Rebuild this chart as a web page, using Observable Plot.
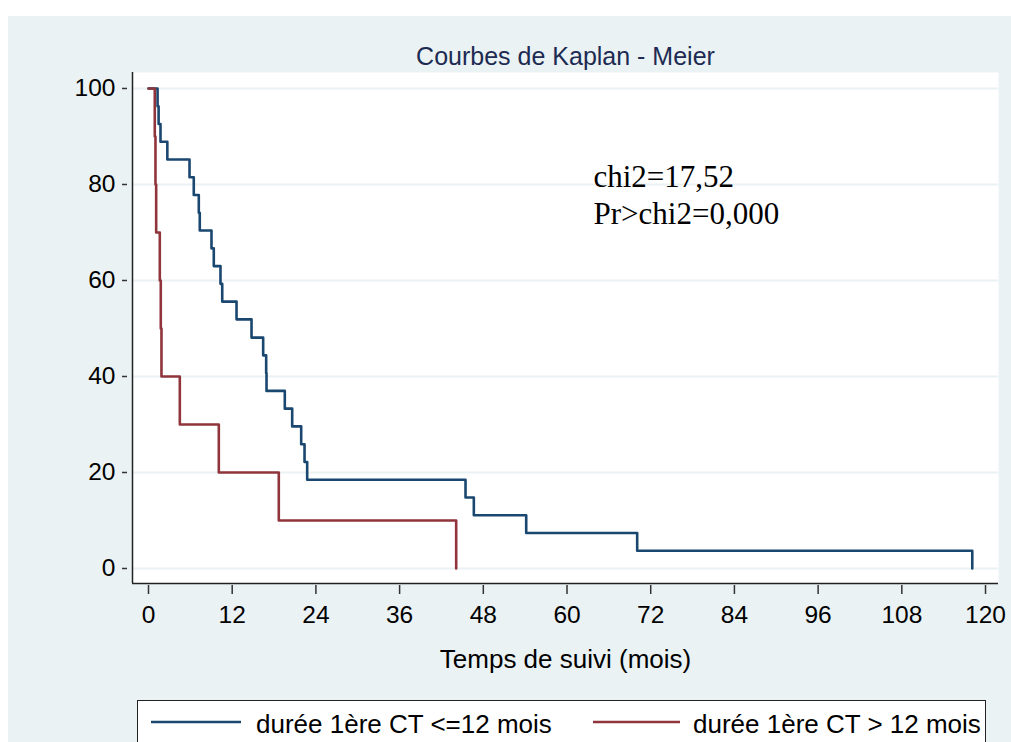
<!DOCTYPE html>
<html><head><meta charset="utf-8">
<script src="https://cdn.jsdelivr.net/npm/d3@7"></script>
<script src="https://cdn.jsdelivr.net/npm/@observablehq/plot@0.6"></script>
<style>
html,body{margin:0;padding:0;background:#fff;}
#page{position:relative;width:1011px;height:742px;overflow:hidden;background:#fff;font-family:"Liberation Sans",Arial,sans-serif;}
#bg{position:absolute;left:8px;top:16px;right:0;bottom:0;background:#eaf2f3;}
#chart{position:absolute;left:0;top:0;}
#legend{position:absolute;left:137px;top:700px;width:849px;height:60px;border:1.5px solid #222;background:#fff;box-sizing:border-box;}
</style>
</head><body>
<div id="page"><div id="bg"></div><div id="chart"></div><div id="legend"></div></div>
<script>
// ---- data ----
const groupNames = ["durée 1ère CT <=12 mois", "durée 1ère CT > 12 mois"];
const groupColors = ["#1a476f", "#90353b"];
const blueTimes = [0, 1.3, 1.45, 1.72, 2.7, 5.88, 6.49, 7.21, 7.35, 9.03, 9.36, 10.32, 10.57, 12.62, 14.77, 16.44, 16.87, 16.92, 19.54, 20.6, 21.89, 22.37, 22.75, 45.45, 46.64, 54.15, 70.06, 118.1];
const blueSurv  = [100, 96.3, 92.6, 88.9, 85.2, 81.5, 77.8, 74.1, 70.4, 66.7, 63.0, 59.3, 55.6, 51.9, 48.1, 44.4, 40.7, 37.0, 33.3, 29.6, 25.9, 22.2, 18.5, 14.8, 11.1, 7.4, 3.7, 0];
const redTimes = [0, 0.9, 1.0, 1.1, 1.62, 1.76, 1.86, 4.49, 10.08, 18.68, 44.11];
const redSurv  = [100, 90, 80, 70, 60, 50, 40, 30, 20, 10, 0];
const xTicks = [0, 12, 24, 36, 48, 60, 72, 84, 96, 108, 120];
const yTicks = [0, 20, 40, 60, 80, 100];
const titleText = "Courbes de Kaplan - Meier";
const xLabel = "Temps de suivi (mois)";
const statText = ["chi2=17,52", "Pr>chi2=0,000"];

// ---- build table ----
const rows = [
  ...blueTimes.map((t, i) => ({t, s: blueSurv[i], g: groupNames[0]})),
  ...redTimes.map((t, i) => ({t, s: redSurv[i], g: groupNames[1]}))
];

const xDomain = [-2.294, 121.86];
const yDomain = [-3.125, 103.33];
const sans = "Liberation Sans, Arial, sans-serif";

const chart = Plot.plot({
  width: 1011,
  height: 700,
  marginLeft: 132,
  marginRight: 13,
  marginTop: 72,
  marginBottom: 117,
  style: {background: "transparent", fontFamily: sans, overflow: "visible"},
  x: {domain: xDomain},
  y: {domain: yDomain},
  color: {domain: groupNames, range: groupColors},
  marks: [
    Plot.frame({fill: "white", stroke: null}),
    Plot.gridY(yTicks, {stroke: "#eaf2f3", strokeOpacity: 1, strokeWidth: 2}),
    Plot.ruleX([xDomain[0]], {stroke: "#222", strokeWidth: 1.5}),
    Plot.ruleY([yDomain[0]], {stroke: "#222", strokeWidth: 1.5}),
    Plot.axisY({ticks: yTicks, tickSize: 5, dx: -5, tickPadding: 7, fontSize: 24.5, stroke: "#333", strokeWidth: 1.5, fill: "#000", label: null, tickFormat: d => String(d)}),
    Plot.axisX({ticks: xTicks, tickSize: 9, dy: 2, tickPadding: 11, fontSize: 24.5, stroke: "#333", strokeWidth: 1.5, fill: "#000", label: null, tickFormat: d => String(d)}),
    Plot.line(rows, {x: "t", y: "s", z: "g", stroke: "g", strokeWidth: 2.6, curve: "step-after"}),
    Plot.text([titleText], {frameAnchor: "top", lineAnchor: "middle", dy: -16, fontSize: 25, fill: "#1d2a52", fontFamily: sans}),
    Plot.text([xLabel], {frameAnchor: "bottom", lineAnchor: "bottom", dy: 84, fontSize: 26, fill: "#000", fontFamily: sans}),
    Plot.text([statText.join("\n")], {frameAnchor: "top-left", textAnchor: "start", lineAnchor: "bottom", lineHeight: 1.18, dx: 461, dy: 151, fontSize: 31, fill: "#000", fontFamily: "Liberation Serif, Times New Roman, serif"})
  ]
});
document.getElementById("chart").appendChild(chart);

// ---- legend ----
const lg = d3.select("#legend").append("svg").attr("width", 846).attr("height", 58);
const items = [
  {x1: 13, x2: 103, tx: 118},
  {x1: 455, x2: 542, tx: 555}
];
groupNames.forEach((name, i) => {
  const it = items[i];
  lg.append("line").attr("x1", it.x1).attr("x2", it.x2).attr("y1", 21).attr("y2", 21)
    .attr("stroke", groupColors[i]).attr("stroke-width", 2.6);
  lg.append("text").attr("x", it.tx).attr("y", 32).attr("font-size", 26)
    .attr("font-family", sans).attr("fill", "#000").text(name);
});
</script>
</body></html>
